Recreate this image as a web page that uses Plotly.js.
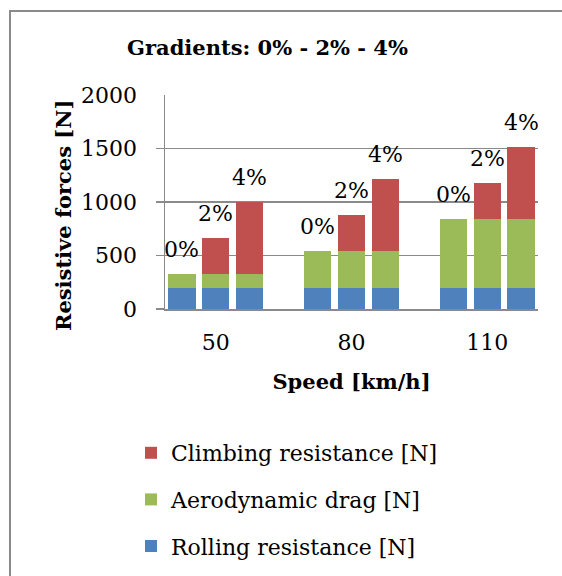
<!DOCTYPE html>
<html>
<head>
<meta charset="utf-8">
<script src="https://cdn.plot.ly/plotly-3.0.1.min.js"></script>
<style>
  html, body { margin: 0; padding: 0; background: #fff; }
  #wrap { position: relative; width: 562px; height: 576px; overflow: hidden; }
  #chart { position: absolute; left: 0; top: 0; width: 562px; height: 576px; }
  #frame { position: absolute; left: 9px; top: 10px; width: 600px; height: 600px;
           border-left: 2px solid #8a8a8a; border-top: 2px solid #8a8a8a; pointer-events: none; }
</style>
</head>
<body>
<div id="wrap"><div id="chart"></div><div id="frame"></div></div>
<script>
// ---- data ----
const speeds = ['50', '80', '110'];
const gradients = ['0%', '2%', '4%'];
const rolling = [200, 200, 200];          // Rolling resistance [N] per speed
const aero = [130, 340, 640];             // Aerodynamic drag [N] per speed
const climb0 = [0, 0, 0];                 // Climbing resistance at 0% per speed
const climb2 = [335, 337, 334];           // Climbing resistance at 2% per speed
const climb4 = [672, 671, 671];           // Climbing resistance at 4% per speed
const climbing = [climb0, climb2, climb4];
const yTitle = 'Resistive forces [N]';
const xTitle = 'Speed [km/h]';
const chartTitle = 'Gradients: 0% - 2% - 4%';

// ---- build stacked bar series (9 bars: speed groups x gradients) ----
const slotsPerGroup = gradients.length + 1;
const xs = [], yRoll = [], yAero = [], yClimb = [], labels = [], totals = [];
speeds.forEach((s, g) => {
  gradients.forEach((gr, k) => {
    xs.push(g * slotsPerGroup + k);
    yRoll.push(rolling[g]);
    yAero.push(aero[g]);
    yClimb.push(climbing[k][g]);
    labels.push(gr);
    totals.push(rolling[g] + aero[g] + climbing[k][g]);
  });
});
const tickPos = speeds.map((s, g) => g * slotsPerGroup + 1);

const serif = 'DejaVu Serif, Liberation Serif, serif';
const barW = 0.8;
const axisGray = '#8a8a8a';

const traces = [
  { type: 'bar', name: 'Rolling resistance [N]', x: xs, y: yRoll, width: barW,
    marker: { color: '#4F81BD', line: { width: 0 } }, legendgroup: 'r', legendrank: 3, hoverinfo: 'y' },
  { type: 'bar', name: 'Aerodynamic drag [N]', x: xs, y: yAero, width: barW,
    marker: { color: '#9BBB59', line: { width: 0 } }, legendgroup: 'a', legendrank: 2, hoverinfo: 'y' },
  { type: 'bar', name: 'Climbing resistance [N]', x: xs, y: yClimb, width: barW,
    marker: { color: '#C0504D', line: { width: 0 } }, legendgroup: 'c', legendrank: 1, hoverinfo: 'y' }
];

const annotations = xs.map((x, i) => ({
  x: x, y: totals[i], xref: 'x', yref: 'y', text: labels[i], showarrow: false,
  yanchor: 'bottom', xanchor: 'center', yshift: 10,
  font: { family: serif, size: 22, color: '#000' }
}));
// y-axis title (drawn as rotated annotation beside the axis)
annotations.push({
  text: '<b>' + yTitle + '</b>', xref: 'paper', yref: 'paper', x: -0.2735, y: 0.439,
  xanchor: 'center', yanchor: 'middle', textangle: -90, showarrow: false,
  font: { family: serif, size: 21, color: '#000' }
});

const layout = {
  width: 562, height: 576,
  margin: { l: 165, r: 24, t: 95, b: 267, pad: 0, autoexpand: false },
  paper_bgcolor: '#fff', plot_bgcolor: '#fff',
  barmode: 'stack',
  font: { family: serif, size: 22, color: '#000' },
  title: { text: '<b>' + chartTitle + '</b>', xref: 'container', yref: 'container',
           x: 0.476, xanchor: 'center', y: 1 - 48 / 576, yanchor: 'middle',
           font: { family: serif, size: 21, color: '#000' } },
  xaxis: {
    range: [-0.5, xs[xs.length - 1] + 0.5], tickmode: 'array', tickvals: tickPos, ticktext: speeds,
    tickangle: 0,
    showline: true, linecolor: axisGray, linewidth: 1.5, ticks: '', showgrid: false, zeroline: false,
    ticklabelstandoff: 13, tickfont: { family: serif, size: 22 },
    title: { text: '<b>' + xTitle + '</b>', standoff: 20, font: { family: serif, size: 21 } },
    fixedrange: true
  },
  yaxis: {
    range: [0, 2000], dtick: 500, tick0: 0,
    showline: true, linecolor: axisGray, linewidth: 1.5,
    ticks: 'outside', ticklen: 22, tickcolor: 'rgba(0,0,0,0)', tickwidth: 1.5,
    // visible short tick marks (offset by a negligible amount so they are not merged with major ticks)
    minor: { tickmode: 'linear', tick0: 1, dtick: 500, ticks: 'outside', ticklen: 8,
             tickcolor: axisGray, tickwidth: 1.5, showgrid: false },
    showgrid: true, gridcolor: axisGray, gridwidth: 1.5, zeroline: false,
    tickfont: { family: serif, size: 22 },
    fixedrange: true
  },
  showlegend: true,
  legend: {
    xref: 'container', yref: 'container', x: 131 / 562, xanchor: 'left',
    y: 1 - 432 / 576, yanchor: 'top', traceorder: 'grouped', tracegroupgap: 15,
    font: { family: serif, size: 22, color: '#000' }, bgcolor: 'rgba(0,0,0,0)'
  },
  annotations: annotations
};

Plotly.newPlot('chart', traces, layout, { displayModeBar: false, staticPlot: true });
</script>
</body>
</html>
